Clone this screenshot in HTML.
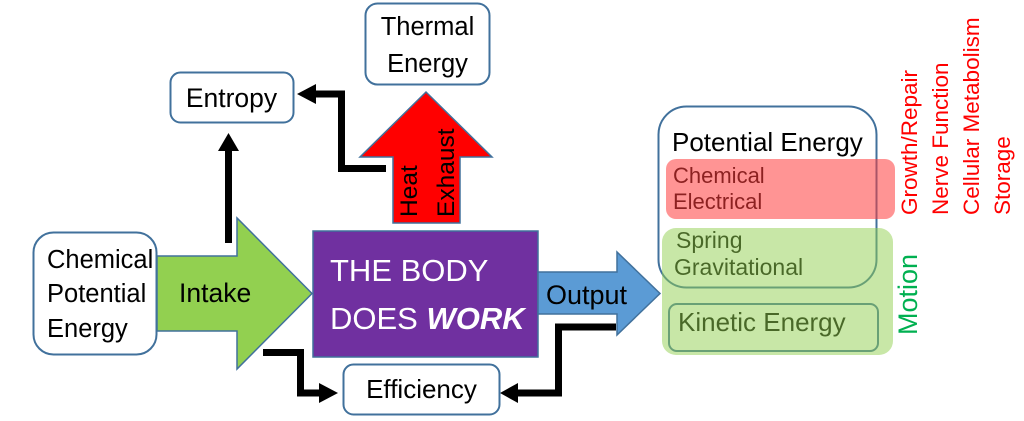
<!DOCTYPE html>
<html>
<head>
<meta charset="utf-8">
<style>
  html,body{margin:0;padding:0;background:#fff;}
  svg{display:block;}
  text{font-family:"Liberation Sans",sans-serif;}
</style>
</head>
<body>
<svg width="1024" height="421" viewBox="0 0 1024 421" xmlns="http://www.w3.org/2000/svg">
  <rect x="0" y="0" width="1024" height="421" fill="#fff"/>

  <!-- black connectors -->
  <g fill="none" stroke="#000" stroke-width="7" stroke-linejoin="miter">
    <polyline points="228.5,243 228.5,148"/>
    <polyline points="386,168.5 341.5,168.5 341.5,94 313,94"/>
    <polyline points="263,352.5 300.5,352.5 300.5,393 322,393"/>
    <polyline points="616,327 558.5,327 558.5,393 516,393"/>
  </g>
  <g fill="#000">
    <polygon points="228.5,133 218,151 239,151"/>
    <polygon points="297,94 316,84 316,104"/>
    <polygon points="338,393 319,383 319,403"/>
    <polygon points="500,393 518,383 518,403"/>
  </g>

  <!-- Thermal Energy box -->
  <rect x="365.5" y="3.5" width="124" height="81" rx="12" fill="#fff" stroke="#41719C" stroke-width="2"/>
  <text x="427.5" y="35" font-size="25.5" text-anchor="middle" fill="#000">Thermal</text>
  <text x="427.5" y="72" font-size="25.5" text-anchor="middle" fill="#000">Energy</text>

  <!-- Entropy box -->
  <rect x="170.5" y="72.5" width="123" height="50" rx="10" fill="#fff" stroke="#41719C" stroke-width="2"/>
  <text x="231.5" y="107" font-size="26.5" text-anchor="middle" fill="#000">Entropy</text>

  <!-- Red heat arrow -->
  <polygon points="393,223 393,157 360,157 426,92 492,157 460,157 460,223" fill="#FF0000" stroke="#41719C" stroke-width="1.5"/>
  <text transform="translate(417,217) rotate(-90)" font-size="24.5" fill="#000">Heat</text>
  <text transform="translate(454,217) rotate(-90)" font-size="24.5" fill="#000">Exhaust</text>

  <!-- Green intake arrow -->
  <polygon points="157,256 237,256 237,218 312,293.5 237,369 237,331 157,331" fill="#92D050" stroke="#41719C" stroke-width="1.5"/>
  <text x="179" y="302" font-size="26.5" fill="#000">Intake</text>

  <!-- Chemical Potential Energy box -->
  <rect x="33.5" y="232.5" width="123" height="122" rx="20" fill="#fff" stroke="#41719C" stroke-width="2"/>
  <text x="47" y="268" font-size="25.5" fill="#000">Chemical</text>
  <text x="47" y="302" font-size="25.5" fill="#000">Potential</text>
  <text x="47" y="337" font-size="25.5" fill="#000">Energy</text>

  <!-- Purple body box -->
  <rect x="313" y="231" width="225" height="126" fill="#7030A0" stroke="#41719C" stroke-width="1.5"/>
  <text x="330" y="281" font-size="31" fill="#fff">THE BODY</text>
  <text x="330" y="329" font-size="31" fill="#fff">DOES <tspan font-weight="bold" font-style="italic">WORK</tspan></text>

  <!-- Blue output arrow -->
  <polygon points="538,272 617,272 617,252 660,293.5 617,335 617,314 538,314" fill="#5B9BD5" stroke="#41719C" stroke-width="1.5"/>
  <text x="546" y="304" font-size="27" fill="#000">Output</text>

  <!-- Efficiency box -->
  <rect x="343.5" y="364.5" width="156" height="50" rx="10" fill="#fff" stroke="#41719C" stroke-width="2"/>
  <text x="421.5" y="398" font-size="26" text-anchor="middle" fill="#000">Efficiency</text>

  <!-- Potential energy group -->
  <rect x="658.5" y="106.5" width="218" height="181" rx="28" fill="none" stroke="#41719C" stroke-width="2"/>
  <rect x="669" y="304" width="209" height="47" rx="8" fill="none" stroke="#41719C" stroke-width="2"/>
  <text x="672" y="151" font-size="26" fill="#000">Potential Energy</text>
  <text x="673" y="183" font-size="22" fill="#000">Chemical</text>
  <text x="673" y="209" font-size="22" fill="#000">Electrical</text>
  <text x="676" y="248" font-size="23" fill="#000">Spring</text>
  <text x="674" y="275" font-size="23" fill="#000">Gravitational</text>
  <text x="678" y="331" font-size="26" fill="#000">Kinetic Energy</text>

  <!-- translucent overlays -->
  <rect x="666" y="159" width="229" height="60" rx="10" fill="#FF3C3C" fill-opacity="0.55"/>
  <rect x="662" y="228" width="231" height="127" rx="14" fill="#92D050" fill-opacity="0.5"/>

  <!-- vertical labels -->
  <g font-size="22.5" fill="#FF0000">
    <text transform="translate(917,215) rotate(-90)">Growth/Repair</text>
    <text transform="translate(948,215) rotate(-90)">Nerve Function</text>
    <text transform="translate(979,215) rotate(-90)">Cellular Metabolism</text>
    <text transform="translate(1010,215) rotate(-90)">Storage</text>
  </g>
  <text transform="translate(917,335) rotate(-90)" font-size="27" fill="#00B050">Motion</text>
</svg>
</body>
</html>
